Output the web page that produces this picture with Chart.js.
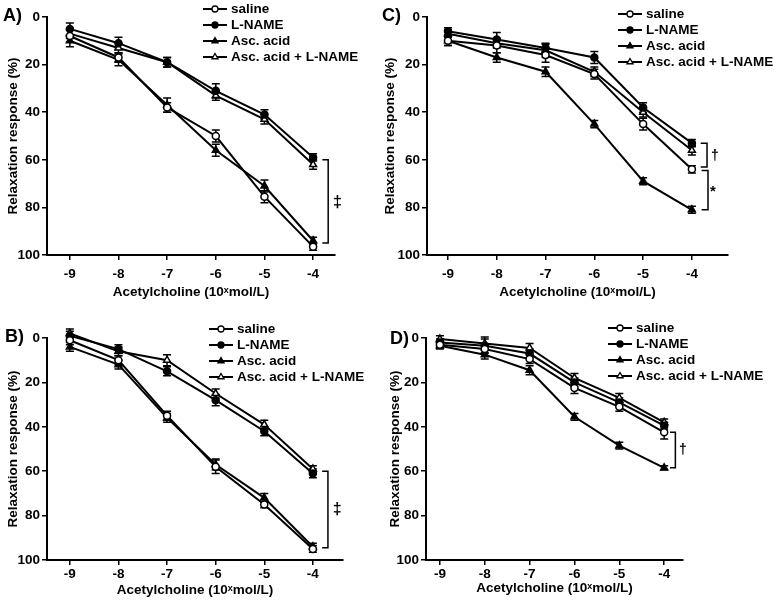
<!DOCTYPE html>
<html><head><meta charset="utf-8">
<script src="https://cdn.jsdelivr.net/npm/chart.js@4.4.0/dist/chart.umd.min.js"></script>
<style>
html,body{margin:0;padding:0;background:#fff;width:774px;height:604px;overflow:hidden}
canvas{position:absolute}
</style></head><body>
<canvas id="cA" width="387" height="300" style="left:0px;top:0px"></canvas>
<canvas id="cC" width="394" height="300" style="left:380px;top:0px"></canvas>
<canvas id="cB" width="387" height="304" style="left:0px;top:300px"></canvas>
<canvas id="cD" width="394" height="304" style="left:380px;top:300px"></canvas>
<script>
// ---------- data ----------
const doses = [-9, -8, -7, -6, -5, -4];
const xTickLabels = ['-9', '-8', '-7', '-6', '-5', '-4'];
const yTickValues = [0, 20, 40, 60, 80, 100];
const seriesNames = ['saline', 'L-NAME', 'Asc. acid', 'Asc. acid + L-NAME'];
const xTitle = 'Acetylcholine (10\u02E3mol/L)';
const yTitle = 'Relaxation response (%)';

// Panel A
const A_saline    = [8, 17, 38, 50, 75.5, 96.5];
const A_lname     = [5, 11, 19, 31, 41, 59];
const A_asc       = [10, 18, 37, 56, 71, 94];
const A_asclname  = [7, 13, 19, 33, 43, 62];
const A_saline_err   = [2.5, 2, 2, 2.5, 2.5, 1.5];
const A_lname_err    = [2.5, 2.5, 2, 3, 2, 1.5];
const A_asc_err      = [2.5, 2.5, 3, 2.5, 2.5, 1.5];
const A_asclname_err = [2, 2, 2, 2, 2, 2];

// Panel B
const B_saline    = [1, 10, 35, 58, 75, 95];
const B_lname     = [-1, 5, 15, 28, 42, 61];
const B_asc       = [4, 12, 36, 57, 72, 94];
const B_asclname  = [-2, 6, 10, 25, 39, 59];
const B_saline_err   = [2, 2, 2, 3, 1.5, 1.5];
const B_lname_err    = [2, 2, 2, 2.5, 2, 2];
const B_asc_err      = [2, 2, 2, 2.5, 2, 1.5];
const B_asclname_err = [2, 2, 2.5, 2, 2, 1.5];

// Panel C
const C_saline    = [10, 12, 16, 24, 45, 64];
const C_lname     = [6, 9.5, 13, 17, 38, 53];
const C_asc       = [10, 17, 23, 45, 69, 81];
const C_asclname  = [7, 11, 14, 23, 40, 56];
const C_saline_err   = [2, 3, 3, 2, 2.5, 1.5];
const C_lname_err    = [1.5, 3, 1.5, 2.5, 2, 1.5];
const C_asc_err      = [2, 2, 2, 1.5, 1.5, 1.5];
const C_asclname_err = [1.5, 2, 3, 2, 2, 2];

// Panel D
const D_saline    = [3, 5, 9.5, 22.5, 31, 42.5];
const D_lname     = [2, 3.5, 7, 20, 29, 39.5];
const D_asc       = [3.5, 7.5, 14.5, 35.5, 48.5, 58.5];
const D_asclname  = [0.5, 2.5, 4.5, 18, 27, 38];
const D_saline_err   = [1.5, 2, 2, 2.5, 2, 3];
const D_lname_err    = [1.5, 3, 2, 2, 2, 1.5];
const D_asc_err      = [1.5, 2, 2, 1.5, 1.5, 1];
const D_asclname_err = [1.5, 3, 2, 2, 2, 1.5];

// significance marks (data coordinates)
const A_brackets = [{x: -3.69, xIn: -3.81, y1: 60, y2: 95}];
const A_marks = [{x: -3.5, y: 78, text: '\u2021', size: 16}];
const B_brackets = [{x: -3.69, xIn: -3.81, y1: 60, y2: 94.5}];
const B_marks = [{x: -3.5, y: 77.5, text: '\u2021', size: 16}];
const C_brackets = [{x: -3.69, xIn: -3.82, y1: 53, y2: 63}, {x: -3.67, xIn: -3.80, y1: 64.5, y2: 81}];
const C_marks = [{x: -3.53, y: 58.5, text: '\u2020', size: 14}, {x: -3.57, y: 73.5, text: '*', size: 15}];
const D_brackets = [{x: -3.75, xIn: -3.87, y1: 42.5, y2: 58.5}];
const D_marks = [{x: -3.58, y: 50.5, text: '\u2020', size: 14}];

// ---------- styles ----------
const FONT = "'Liberation Sans', Arial, Helvetica, sans-serif";
Chart.defaults.font.family = FONT;
Chart.defaults.font.weight = 'bold';
Chart.defaults.color = '#000';

const seriesStyles = [
  {pointStyle: 'circle', fill: '#fff', radius: 3.5},
  {pointStyle: 'circle', fill: '#000', radius: 3.5},
  {pointStyle: 'triangle', fill: '#000', radius: 4},
  {pointStyle: 'triangle', fill: '#fff', radius: 4}
];

function makePanel(canvasId, p) {
  const datasets = p.series.map((vals, si) => ({
    label: seriesNames[si],
    data: doses.map((d, i) => ({x: d, y: vals[i]})),
    errors: p.errors[si],
    borderColor: '#000',
    borderWidth: 2,
    pointStyle: seriesStyles[si].pointStyle,
    pointRadius: seriesStyles[si].radius,
    pointBackgroundColor: seriesStyles[si].fill,
    pointBorderColor: '#000',
    pointBorderWidth: 1.5,
    fill: false,
    tension: 0,
    clip: false
  }));

  const decor = {
    id: 'decor_' + canvasId,
    beforeDatasetsDraw(chart) {
      const {ctx, scales: {x, y}} = chart;
      ctx.save();
      ctx.strokeStyle = '#000';
      ctx.lineWidth = 1.5;
      chart.data.datasets.forEach(ds => {
        ds.data.forEach((pt, i) => {
          const e = ds.errors[i];
          const px = x.getPixelForValue(pt.x);
          const t = y.getPixelForValue(pt.y - e), b = y.getPixelForValue(pt.y + e);
          ctx.beginPath();
          ctx.moveTo(px, t); ctx.lineTo(px, b);
          ctx.moveTo(px - 4, t); ctx.lineTo(px + 4, t);
          ctx.moveTo(px - 4, b); ctx.lineTo(px + 4, b);
          ctx.stroke();
        });
      });
      ctx.restore();
    },
    afterDraw(chart) {
      const {ctx, scales: {x, y}} = chart;
      ctx.save();
      // brackets
      ctx.strokeStyle = '#000';
      ctx.lineWidth = 1.5;
      p.brackets.forEach(br => {
        const bx = x.getPixelForValue(br.x), bi = x.getPixelForValue(br.xIn);
        const y1 = y.getPixelForValue(br.y1), y2 = y.getPixelForValue(br.y2);
        ctx.beginPath();
        ctx.moveTo(bi, y1); ctx.lineTo(bx, y1); ctx.lineTo(bx, y2); ctx.lineTo(bi, y2);
        ctx.stroke();
      });
      ctx.fillStyle = '#000';
      ctx.textAlign = 'center';
      ctx.textBaseline = 'middle';
      p.marks.forEach(m => {
        ctx.font = 'bold ' + m.size + 'px ' + FONT;
        ctx.fillText(m.text, x.getPixelForValue(m.x), y.getPixelForValue(m.y));
      });
      // panel label
      ctx.textAlign = 'left';
      ctx.font = 'bold 18px ' + FONT;
      ctx.fillText(p.label, p.labelPos[0], p.labelPos[1]);
      // legend
      ctx.font = 'bold 13.5px ' + FONT;
      chart.data.datasets.forEach((ds, si) => {
        const ly = p.legend.y0 + si * 16;
        const lx = p.legend.x0;
        ctx.lineWidth = 2;
        ctx.strokeStyle = '#000';
        ctx.beginPath(); ctx.moveTo(lx, ly); ctx.lineTo(lx + 24, ly); ctx.stroke();
        ctx.fillStyle = seriesStyles[si].fill;
        ctx.lineWidth = 1.3;
        Chart.helpers.drawPoint(ctx, {pointStyle: seriesStyles[si].pointStyle, radius: seriesStyles[si].radius - 0.5, borderWidth: 1.3, rotation: 0}, lx + 12, ly);
        ctx.fillStyle = '#000';
        ctx.fillText(ds.label, lx + 28, ly + 0.5);
      });
      ctx.restore();
    }
  };

  return new Chart(document.getElementById(canvasId), {
    type: 'line',
    data: {datasets},
    plugins: [decor],
    options: {
      responsive: false,
      animation: false,
      devicePixelRatio: 1,
      layout: {padding: {left: 0, top: p.padTop, right: p.padRight, bottom: 0}},
      plugins: {legend: {display: false}, tooltip: {enabled: false}},
      scales: {
        x: {
          type: 'linear',
          min: p.xMin, max: p.xMax,
          afterBuildTicks: axis => { axis.ticks = doses.map(v => ({value: v})); },
          afterFit: axis => { axis.height = p.xAxisH; axis.paddingLeft = 0; axis.paddingRight = 0; },
          ticks: {
            callback: (v, i) => xTickLabels[i],
            font: {size: 13.5, weight: 'bold'}, color: '#000', padding: p.xTickPad, maxRotation: 0, autoSkip: false
          },
          grid: {display: true, drawOnChartArea: false, drawTicks: true, tickLength: 5, color: '#000', lineWidth: 1.5},
          border: {display: true, color: '#000', width: 2},
          title: {display: true, text: xTitle, font: {size: 13.5, weight: 'bold'}, color: '#000', padding: {top: 0, bottom: p.xTitlePad}}
        },
        y: {
          type: 'linear',
          reverse: true,
          min: 0, max: 100,
          afterBuildTicks: axis => { axis.ticks = yTickValues.map(v => ({value: v})); },
          afterFit: axis => { axis.width = p.yAxisW; axis.paddingTop = 0; axis.paddingBottom = 0; },
          ticks: {font: {size: 13.5, weight: 'bold'}, color: '#000', padding: 2},
          grid: {display: true, drawOnChartArea: false, drawTicks: true, tickLength: 5, color: '#000', lineWidth: 1.5},
          border: {display: true, color: '#000', width: 2},
          title: {display: true, text: yTitle, font: {size: 13.5, weight: 'bold'}, color: '#000', padding: {top: p.yTitlePad, bottom: 0}}
        }
      }
    }
  });
}

makePanel('cA', {
  series: [A_saline, A_lname, A_asc, A_asclname],
  errors: [A_saline_err, A_lname_err, A_asc_err, A_asclname_err],
  brackets: A_brackets, marks: A_marks,
  xMin: -9.47, xMax: -3.55, yAxisW: 47, xAxisH: 45, padTop: 17, padRight: 52,
  xTickPad: 6, xTitlePad: 0, yTitlePad: 5, label: 'A)', labelPos: [3, 16],
  legend: {x0: 203, y0: 9}
});
makePanel('cC', {
  series: [C_saline, C_lname, C_asc, C_asclname],
  errors: [C_saline_err, C_lname_err, C_asc_err, C_asclname_err],
  brackets: C_brackets, marks: C_marks,
  xMin: -9.43, xMax: -3.26, yAxisW: 47, xAxisH: 45, padTop: 17, padRight: 46,
  xTickPad: 6, xTitlePad: 0, yTitlePad: 2, label: 'C)', labelPos: [2, 16],
  legend: {x0: 238, y0: 14}
});
makePanel('cB', {
  series: [B_saline, B_lname, B_asc, B_asclname],
  errors: [B_saline_err, B_lname_err, B_asc_err, B_asclname_err],
  brackets: B_brackets, marks: B_marks,
  xMin: -9.47, xMax: -3.38, yAxisW: 47, xAxisH: 44, padTop: 38, padRight: 44,
  xTickPad: 1.5, xTitlePad: 6, yTitlePad: 5, label: 'B)', labelPos: [5, 37],
  legend: {x0: 209, y0: 29}
});
makePanel('cD', {
  series: [D_saline, D_lname, D_asc, D_asclname],
  errors: [D_saline_err, D_lname_err, D_asc_err, D_asclname_err],
  brackets: D_brackets, marks: D_marks,
  xMin: -9.31, xMax: -3.58, yAxisW: 46, xAxisH: 44, padTop: 38, padRight: 91,
  xTickPad: 1, xTitlePad: 8, yTitlePad: 7, label: 'D)', labelPos: [10, 39],
  legend: {x0: 228, y0: 28}
});
</script>
</body></html>
